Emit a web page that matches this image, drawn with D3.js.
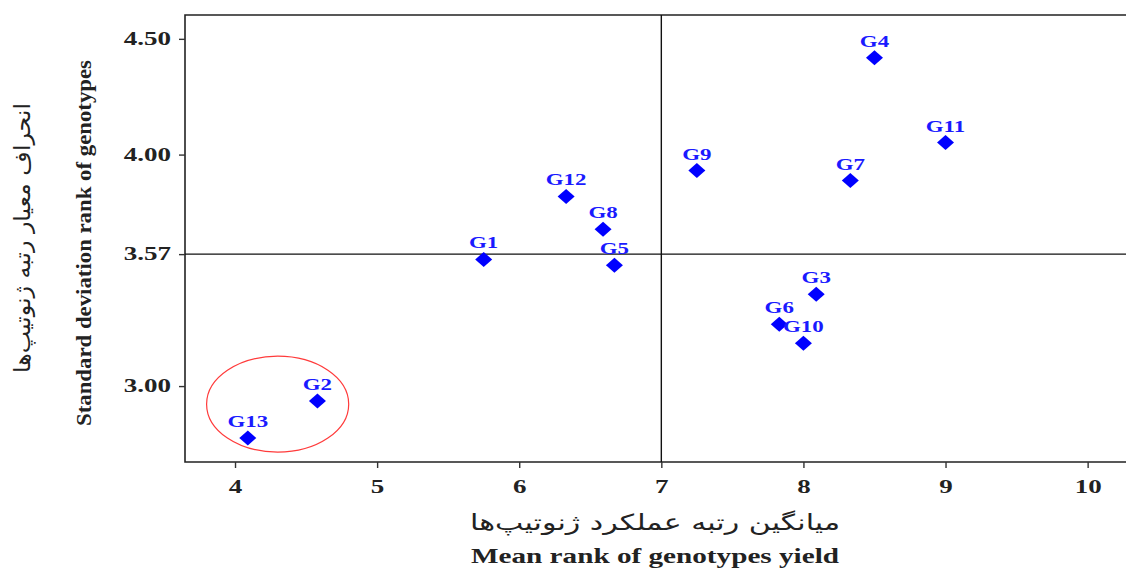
<!DOCTYPE html>
<html lang="en">
<head>
<meta charset="UTF-8">
<title>Mean rank vs SD rank</title>
<style>
  body { margin: 0; background: #fff; }
  svg { display: block; }
  .tick text { font-family: "Liberation Serif", serif; font-weight: bold; font-size: 18px; fill: #222; }
  .lbl { font-family: "Liberation Serif", serif; font-weight: bold; font-size: 17px; fill: #1a1aff; }
</style>
</head>
<body>
<svg id="chart"></svg>
<script src="https://cdnjs.cloudflare.com/ajax/libs/d3/7.8.5/d3.min.js"></script>
<script>
// genotype data
const genotypes = ['G1', 'G2', 'G3', 'G4', 'G5', 'G6', 'G7', 'G8', 'G9', 'G10', 'G11', 'G12', 'G13'];
const meanRank = [5.75, 4.58, 8.09, 8.50, 6.67, 7.83, 8.33, 6.59, 7.25, 8.00, 9.00, 6.33, 4.09];
const sdRank = [3.547, 2.935, 3.397, 4.418, 3.522, 3.267, 3.888, 3.677, 3.931, 3.185, 4.052, 3.819, 2.776];
const xTicks = [4, 5, 6, 7, 8, 9, 10];
const yTicks = [3.00, 3.57, 4.00, 4.50];
const refX = 7;
const refY = 3.57;

const W = 1126, H = 570;
const mLeft = 185, mTop = 15, mRight = 1126, mBottom = 462;

const svg = d3.select('#chart').attr('width', W).attr('height', H);

const x = d3.scaleLinear().domain([3.648, 10.27]).range([mLeft, mRight]);
const y = d3.scaleLinear().domain([2.672, 4.603]).range([mBottom, mTop]);

// the original picture is stretched sideways, so widen the text to match
function stretch(sel, k) {
  sel.each(function () {
    const w = this.getComputedTextLength();
    d3.select(this).attr('textLength', w * k).attr('lengthAdjust', 'spacingAndGlyphs');
  });
}

// frame (no right side)
svg.append('path')
  .attr('d', `M${mRight},${mTop}H${mLeft}V${mBottom}H${mRight}`)
  .attr('fill', 'none').attr('stroke', '#222').attr('stroke-width', 1.6);

// axes
const xAxis = svg.append('g')
  .attr('transform', `translate(0,${mBottom})`)
  .call(d3.axisBottom(x).tickValues(xTicks).tickSize(6).tickPadding(12).tickFormat(d3.format('d')));
const yAxis = svg.append('g')
  .attr('transform', `translate(${mLeft},0)`)
  .call(d3.axisLeft(y).tickValues(yTicks).tickSize(6).tickPadding(8).tickFormat(d3.format('.2f')));
[xAxis, yAxis].forEach(a => {
  a.select('.domain').remove();
  a.selectAll('.tick line').attr('stroke', '#333').attr('stroke-width', 1.4);
  stretch(a.selectAll('.tick text'), 1.5);
});

// reference lines
svg.append('line')
  .attr('x1', x(refX)).attr('x2', x(refX)).attr('y1', mTop).attr('y2', mBottom)
  .attr('stroke', '#111').attr('stroke-width', 1.4);
svg.append('line')
  .attr('x1', mLeft).attr('x2', mRight).attr('y1', y(refY)).attr('y2', y(refY))
  .attr('stroke', '#111').attr('stroke-width', 1.4);

// red circle round G2 and G13
svg.append('ellipse')
  .attr('cx', x(4.30)).attr('cy', y(2.922))
  .attr('rx', x(4.80) - x(4.30)).attr('ry', y(2.922) - y(3.129))
  .attr('fill', 'none').attr('stroke', '#ff3b3b').attr('stroke-width', 1.2);

const pts = genotypes.map((g, i) => ({ g, mx: meanRank[i], sd: sdRank[i] }));

svg.append('g').selectAll('path')
  .data(pts).join('path')
  .attr('transform', d => `translate(${x(d.mx)},${y(d.sd)})`)
  .attr('d', 'M0,-7.5L8.5,0L0,7.5L-8.5,0Z')
  .attr('fill', '#0000ff');

const labels = svg.append('g').selectAll('text')
  .data(pts).join('text')
  .attr('class', 'lbl')
  .attr('x', d => x(d.mx))
  .attr('y', d => y(d.sd) - 11)
  .attr('text-anchor', 'middle')
  .text(d => d.g);
stretch(labels, 1.35);

// axis titles
svg.append('text')
  .attr('x', 655).attr('y', 530)
  .attr('text-anchor', 'middle')
  .attr('direction', 'rtl')
  .style('font-family', '"DejaVu Sans", sans-serif')
  .style('font-size', '22px').style('fill', '#222')
  .attr('textLength', 370).attr('lengthAdjust', 'spacingAndGlyphs')
  .text('میانگین رتبه عملکرد ژنوتیپ‌ها');
svg.append('text')
  .attr('x', 655).attr('y', 563)
  .attr('text-anchor', 'middle')
  .style('font-family', '"Liberation Serif", serif').style('font-weight', 'bold')
  .style('font-size', '21px').style('fill', '#222')
  .attr('textLength', 368).attr('lengthAdjust', 'spacingAndGlyphs')
  .text('Mean rank of genotypes yield');

svg.append('text')
  .attr('transform', 'translate(91,243) rotate(-90)')
  .attr('text-anchor', 'middle')
  .style('font-family', '"Liberation Serif", serif').style('font-weight', 'bold')
  .style('font-size', '22px').style('fill', '#222')
  .attr('textLength', 366).attr('lengthAdjust', 'spacingAndGlyphs')
  .text('Standard deviation rank of genotypes');
svg.append('text')
  .attr('transform', 'translate(30,238) rotate(-90)')
  .attr('text-anchor', 'middle')
  .attr('direction', 'rtl')
  .style('font-family', '"DejaVu Sans", sans-serif')
  .style('font-size', '22px').style('fill', '#222')
  .attr('textLength', 270).attr('lengthAdjust', 'spacingAndGlyphs')
  .text('انحراف معیار رتبه ژنوتیپ‌ها');
</script>
</body>
</html>
